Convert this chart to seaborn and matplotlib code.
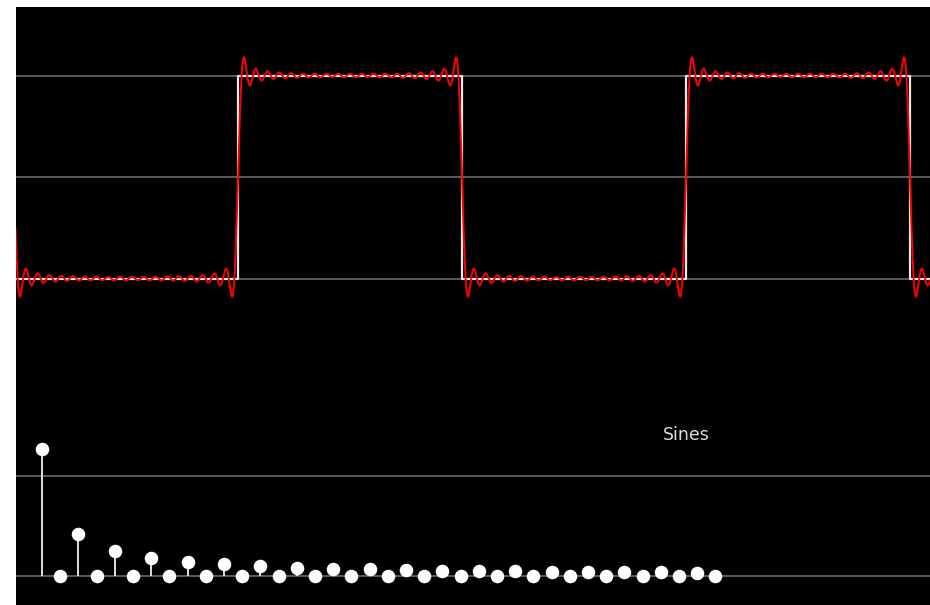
import numpy as np
import pandas as pd
import matplotlib
matplotlib.use("Agg")
import matplotlib.pyplot as plt
import seaborn as sns

# Harmonic amplitudes (harmonic 1..38)
harmonics = list(range(1, 39))
amplitudes = [1.273, 0, 0.424, 0, 0.255, 0, 0.182, 0, 0.141, 0,
              0.116, 0, 0.098, 0, 0.085, 0, 0.075, 0, 0.067, 0,
              0.061, 0, 0.055, 0, 0.051, 0, 0.047, 0, 0.044, 0,
              0.041, 0, 0.039, 0, 0.036, 0, 0.034, 0]

# Ideal square wave: corner points (time in half-periods) and levels
square_t = [-1, 0, 0, 1, 1, 2, 2, 3, 3, 4]
square_v = [-1, -1, 1, 1, -1, -1, 1, 1, -1, -1]

label_text = "Sines"

sns.set_style("dark")

BG = "black"
GRID = "#6a6a6a"
W, H = 930, 605
fig = plt.figure(figsize=(W / 100, H / 100), dpi=100, facecolor="white")

left = 16 / W
width = 1 - left
split = 380  # pixel row between the two panels
ax_top = fig.add_axes([left, (H - split) / H, width, (split - 7) / H])
ax_bot = fig.add_axes([left, 0, width, (H - split) / H])

for ax in (ax_top, ax_bot):
    ax.set_facecolor(BG)
    for s in ax.spines.values():
        s.set_visible(False)
    ax.set_xticks([])
    ax.set_yticks([])
    ax.grid(False)

# ---- top panel: square wave and Fourier partial sum ----
t = np.linspace(-3.12, 9.72, 1600)
partial = np.zeros_like(t)
for n, a in zip(harmonics, amplitudes):
    partial += a * np.sin(n * t)

sq = pd.DataFrame({"t": np.array(square_t) * np.pi, "v": square_v})
fit = pd.DataFrame({"t": t, "v": partial})

for g in (1, 0, -1):
    ax_top.axhline(g, color=GRID, lw=1.2, zorder=1)
ax_top.plot(sq["t"], sq["v"], color="#e8e8e8", lw=1.6, zorder=2)
sns.lineplot(data=fit, x="t", y="v", color="red", lw=1.4, ax=ax_top,
             sort=False, zorder=3)
ax_top.set_xlim(-3.1135, 9.705)
ax_top.set_ylim(-(split - 177) / 101.5, (177 - 7) / 101.5)
ax_top.set_xlabel("")
ax_top.set_ylabel("")

# ---- bottom panel: stem plot of harmonic amplitudes ----
spec = pd.DataFrame({"n": harmonics, "a": amplitudes})
for g in (0, 1):
    ax_bot.axhline(g, color=GRID, lw=1.2, zorder=1)
ax_bot.vlines(spec["n"], 0, spec["a"], color="#e0e0e0", lw=1.4, zorder=2)
sns.scatterplot(data=spec, x="n", y="a", color="white", s=95,
                marker="o", edgecolor="white", linewidth=0, ax=ax_bot,
                zorder=3)
ax_bot.set_xlim(1 + (16 - 42) / 18.2, 1 + (930 - 42) / 18.2)
ax_bot.set_ylim(-(605 - 576) / 100, (576 - split) / 100)
ax_bot.set_xlabel("")
ax_bot.set_ylabel("")
ax_bot.text(36.4, 1.41, label_text, color="#dcdcdc", fontsize=12.5,
            ha="center", va="center", family=["DejaVu Sans"])

fig.savefig("out.png", dpi=100, facecolor="white")
